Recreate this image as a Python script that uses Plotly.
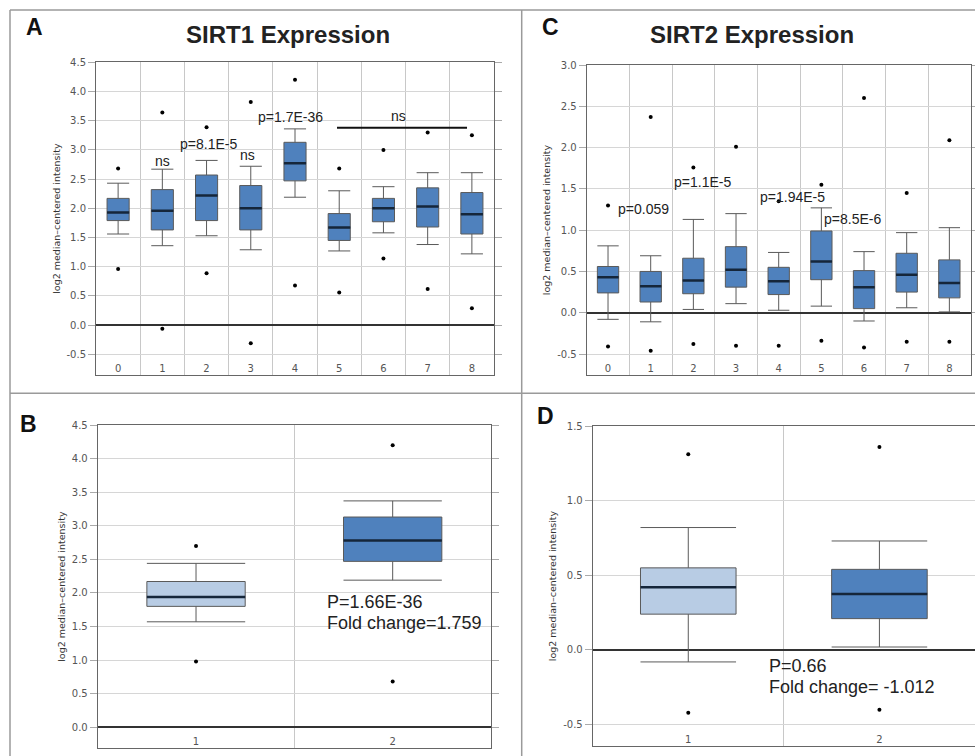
import plotly.graph_objects as go

W, H = 975, 756

# ---------------- data ----------------
# Panel A: SIRT1 expression, categories 0..8
a_cats = [0, 1, 2, 3, 4, 5, 6, 7, 8]
a_labels = ["0", "1", "2", "3", "4", "5", "6", "7", "8"]
a_max = [2.68, 3.64, 3.39, 3.82, 4.20, 2.68, 3.00, 3.30, 3.25]
a_upper = [2.43, 2.67, 2.82, 2.72, 3.36, 2.30, 2.37, 2.61, 2.61]
a_q3 = [2.17, 2.32, 2.57, 2.39, 3.13, 1.91, 2.17, 2.35, 2.27]
a_med = [1.93, 1.96, 2.22, 2.00, 2.77, 1.67, 2.00, 2.03, 1.90]
a_q1 = [1.79, 1.63, 1.79, 1.63, 2.47, 1.45, 1.77, 1.68, 1.56]
a_lower = [1.56, 1.36, 1.53, 1.29, 2.19, 1.27, 1.58, 1.38, 1.22]
a_min = [0.96, -0.06, 0.89, -0.31, 0.68, 0.56, 1.14, 0.62, 0.29]

# Panel C: SIRT2 expression, categories 0..8
c_cats = [0, 1, 2, 3, 4, 5, 6, 7, 8]
c_labels = ["0", "1", "2", "3", "4", "5", "6", "7", "8"]
c_max = [1.30, 2.37, 1.76, 2.01, 1.35, 1.55, 2.60, 1.45, 2.09]
c_upper = [0.81, 0.69, 1.13, 1.20, 0.73, 1.27, 0.74, 0.97, 1.03]
c_q3 = [0.56, 0.50, 0.66, 0.80, 0.55, 0.99, 0.51, 0.72, 0.64]
c_med = [0.43, 0.32, 0.39, 0.52, 0.38, 0.62, 0.31, 0.46, 0.36]
c_q1 = [0.24, 0.13, 0.23, 0.31, 0.22, 0.40, 0.05, 0.25, 0.18]
c_lower = [-0.08, -0.11, 0.04, 0.11, 0.03, 0.08, -0.10, 0.06, 0.01]
c_min = [-0.41, -0.46, -0.38, -0.40, -0.40, -0.34, -0.42, -0.35, -0.35]

# Panel B: SIRT1, normal (1) vs cancer (2)
b_cats = [1, 2]
b_labels = ["1", "2"]
b_max = [2.70, 4.20]
b_upper = [2.44, 3.37]
b_q3 = [2.17, 3.13]
b_med = [1.94, 2.78]
b_q1 = [1.80, 2.47]
b_lower = [1.57, 2.19]
b_min = [0.98, 0.68]

# Panel D: SIRT2, normal (1) vs cancer (2)
d_cats = [1, 2]
d_labels = ["1", "2"]
d_max = [1.31, 1.36]
d_upper = [0.82, 0.73]
d_q3 = [0.55, 0.54]
d_med = [0.42, 0.375]
d_q1 = [0.24, 0.21]
d_lower = [-0.08, 0.02]
d_min = [-0.42, -0.40]

# y tick labels
a_yticks = [-0.5, 0.0, 0.5, 1.0, 1.5, 2.0, 2.5, 3.0, 3.5, 4.0, 4.5]
a_yticktext = ["-0.5", "0.0", "0.5", "1.0", "1.5", "2.0", "2.5", "3.0", "3.5", "4.0", "4.5"]
b_yticks = [0.0, 0.5, 1.0, 1.5, 2.0, 2.5, 3.0, 3.5, 4.0, 4.5]
b_yticktext = ["0.0", "0.5", "1.0", "1.5", "2.0", "2.5", "3.0", "3.5", "4.0", "4.5"]
c_yticks = [-0.5, 0.0, 0.5, 1.0, 1.5, 2.0, 2.5, 3.0]
c_yticktext = ["-0.5", "0.0", "0.5", "1.0", "1.5", "2.0", "2.5", "3.0"]
d_yticks = [-0.5, 0.0, 0.5, 1.0, 1.5]
d_yticktext = ["-0.5", "0.0", "0.5", "1.0", "1.5"]

# significance labels
a_notes = [("ns", 1.0, 2.81), ("p=8.1E-5", 2.05, 3.10), ("ns", 2.93, 2.92),
           ("p=1.7E-36", 3.9, 3.56), ("ns", 6.34, 3.58)]
a_bar = (4.95, 7.89, 3.38)
c_notes = [("p=0.059", 0.84, 1.26), ("p=1.1E-5", 2.21, 1.58),
           ("p=1.94E-5", 4.32, 1.40), ("p=8.5E-6", 5.74, 1.13)]
b_notes = [("P=1.66E-36", 1.655, 1.87), ("Fold change=1.759", 1.655, 1.55)]
d_notes = [("P=0.66", 1.41, -0.11), ("Fold change= -1.012", 1.41, -0.25)]

DARK = "#4f81bd"
LIGHT = "#b8cce4"
EDGE = "#5a5a5a"
MED = "#15263a"

fig = go.Figure()


def add_panel(ax, cats, q1, med, q3, lo, up, mn, mx, colors):
    xs = "x" if ax == 1 else f"x{ax}"
    ys = "y" if ax == 1 else f"y{ax}"
    if isinstance(colors, str):
        groups = [(list(range(len(cats))), colors)]
    else:
        groups = [([i], c) for i, c in enumerate(colors)]
    for idx, col in groups:
        fig.add_trace(go.Box(
            x=[cats[i] for i in idx],
            q1=[q1[i] for i in idx], median=[med[i] for i in idx],
            q3=[q3[i] for i in idx], lowerfence=[lo[i] for i in idx],
            upperfence=[up[i] for i in idx],
            width=0.5, whiskerwidth=1, boxpoints=False,
            fillcolor=col, line=dict(color=EDGE, width=1),
            xaxis=xs, yaxis=ys, showlegend=False, hoverinfo="skip"))
    mx_x, mx_y = [], []
    for c, m in zip(cats, med):
        mx_x += [c - 0.25, c + 0.25, None]
        mx_y += [m, m, None]
    fig.add_trace(go.Scatter(x=mx_x, y=mx_y, mode="lines",
                             line=dict(color=MED, width=2.5),
                             xaxis=xs, yaxis=ys, showlegend=False, hoverinfo="skip"))
    fig.add_trace(go.Scatter(x=list(cats) + list(cats), y=list(mn) + list(mx),
                             mode="markers", marker=dict(color="black", size=4),
                             xaxis=xs, yaxis=ys, showlegend=False, hoverinfo="skip"))


add_panel(1, a_cats, a_q1, a_med, a_q3, a_lower, a_upper, a_min, a_max, DARK)
add_panel(2, c_cats, c_q1, c_med, c_q3, c_lower, c_upper, c_min, c_max, DARK)
add_panel(3, b_cats, b_q1, b_med, b_q3, b_lower, b_upper, b_min, b_max, [LIGHT, DARK])
add_panel(4, d_cats, d_q1, d_med, d_q3, d_lower, d_upper, d_min, d_max, [LIGHT, DARK])


def px_x(a, b):
    return [a / W, min(b / W, 1.0)]


def px_y(top, bottom):
    return [1 - bottom / H, 1 - top / H]


TICKFONT = dict(family="DejaVu Sans", size=10, color="#555")
TITLEFONT = dict(family="DejaVu Sans", size=9.5, color="#333")


def xaxis(dom, cats, labels, rng, anchor):
    mids = [(cats[i] + cats[i + 1]) / 2 for i in range(len(cats) - 1)]
    return dict(domain=dom, range=rng, anchor=anchor, tickmode="array",
                tickvals=cats, ticktext=labels, ticks="", showgrid=False,
                ticklabelposition="inside", tickfont=TICKFONT, automargin=False,
                zeroline=False, showline=True, mirror=True, linecolor="#666", linewidth=1,
                minor=dict(tickmode="array", tickvals=mids, showgrid=True,
                           gridcolor="#c8c8c8", gridwidth=1, ticks=""),
                fixedrange=True)


def yaxis(dom, rng, tv, tt, anchor):
    return dict(domain=dom, range=rng, anchor=anchor, tickmode="array",
                tickvals=tv, ticktext=tt, ticks="outside", ticklen=7,
                tickcolor="#aaa", tickfont=TICKFONT, showgrid=True, automargin=False,
                gridcolor="#d6d6d6", gridwidth=1, zeroline=True,
                zerolinecolor="#333", zerolinewidth=1.5,
                showline=True, mirror="ticks", linecolor="#666", linewidth=1,
                title=dict(text="log2 median\u2013centered intensity", font=TITLEFONT, standoff=4),
                fixedrange=True)


fig.update_layout(
    width=W, height=H, margin=dict(l=0, r=0, t=0, b=0, autoexpand=False),
    paper_bgcolor="white", plot_bgcolor="white",
    xaxis=xaxis(px_x(96, 494), a_cats, a_labels, [-0.5, 8.5], "y"),
    yaxis=yaxis(px_y(62.3, 375), [-0.854, 4.5], a_yticks, a_yticktext, "x"),
    xaxis2=xaxis(px_x(586.7, 970.7), c_cats, c_labels, [-0.5, 8.5], "y2"),
    yaxis2=yaxis(px_y(65, 375), [-0.754, 3.0], c_yticks, c_yticktext, "x2"),
    xaxis3=xaxis(px_x(97.7, 491), b_cats, b_labels, [0.5, 2.5], "y3"),
    yaxis3=yaxis(px_y(425, 748.3), [-0.313, 4.5], b_yticks, b_yticktext, "x3"),
    xaxis4=xaxis(px_x(592.7, 975), d_cats, d_labels, [0.5, 2.5], "y4"),
    yaxis4=yaxis(px_y(426, 746), [-0.643, 1.5], d_yticks, d_yticktext, "x4"),
)

ann = []
NOTEFONT = dict(family="Liberation Sans", size=14, color="#222")
BIGFONT = dict(family="Liberation Sans", size=18, color="#222")
for t, x, y in a_notes:
    ann.append(dict(text=t, x=x, y=y, xref="x", yref="y", showarrow=False,
                    xanchor="center", yanchor="middle", font=NOTEFONT))
for t, x, y in c_notes:
    ann.append(dict(text=t, x=x, y=y, xref="x2", yref="y2", showarrow=False,
                    xanchor="center", yanchor="middle", font=NOTEFONT))
for t, x, y in b_notes:
    ann.append(dict(text=t, x=x, y=y, xref="x3", yref="y3", showarrow=False,
                    xanchor="left", yanchor="middle", font=BIGFONT))
for t, x, y in d_notes:
    ann.append(dict(text=t, x=x, y=y, xref="x4", yref="y4", showarrow=False,
                    xanchor="left", yanchor="middle", font=BIGFONT))

LETTER = dict(family="Liberation Sans", size=23, color="#111")
TITLE = dict(family="Liberation Sans", size=24, color="#222")
for t, x, y in [("<b>A</b>", 34, 27), ("<b>C</b>", 550, 27), ("<b>B</b>", 28.5, 424), ("<b>D</b>", 545, 416)]:
    ann.append(dict(text=t, x=x / W, y=1 - y / H, xref="paper", yref="paper",
                    xanchor="center", yanchor="middle", showarrow=False, font=LETTER))
for t, x, y in [("<b>SIRT1 Expression</b>", 288, 35), ("<b>SIRT2 Expression</b>", 751.5, 35)]:
    ann.append(dict(text=t, x=x / W, y=1 - y / H, xref="paper", yref="paper",
                    xanchor="center", yanchor="middle", showarrow=False, font=TITLE))
fig.update_layout(annotations=ann)

shapes = [
    dict(type="line", xref="x", yref="y", x0=a_bar[0], x1=a_bar[1], y0=a_bar[2], y1=a_bar[2],
         line=dict(color="#111", width=2)),
]
BORDER = dict(color="#9a9a9a", width=1.5)
for x0, y0, x1, y1 in [(10, 10, 975, 10), (10, 10, 10, 756), (521.7, 10, 521.7, 756),
                       (10, 393.3, 975, 393.3)]:
    shapes.append(dict(type="line", xref="paper", yref="paper",
                       x0=x0 / W, x1=x1 / W, y0=1 - y0 / H, y1=1 - y1 / H, line=BORDER))
fig.update_layout(shapes=shapes)

fig.write_html("out.html", config={"displayModeBar": False},
               post_script="document.body.style.margin='0';")
